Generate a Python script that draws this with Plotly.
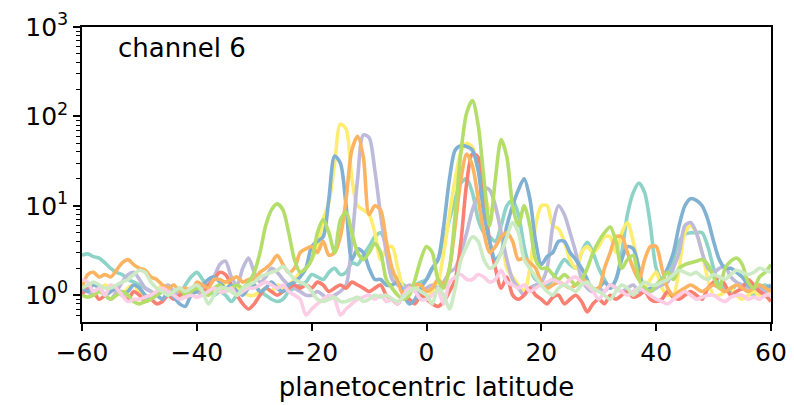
import plotly.graph_objects as go

lat = list(range(-60, 61))

teal = [2.8, 2.9, 2.7, 2.6, 2.3, 2.0, 1.8, 1.7, 1.5, 1.4,
        1.3, 1.2, 1.1, 1.0, 1.1, 1.2, 1.1, 1.0, 1.3, 1.6,
        1.8, 1.5, 1.2, 1.0, 1.1, 1.0, 0.85, 1.0, 1.2, 1.3,
        1.3, 1.1, 1.0, 0.9, 0.85, 0.9, 1.1, 1.2, 1.3, 1.4,
        1.7, 1.6, 1.5, 1.8, 2.0, 1.7, 1.8, 2.3, 2.2, 2.8,
        3.5, 4.5, 5.0, 3.5, 1.8, 1.5, 1.3, 1.2, 1.3, 1.4,
        1.5, 2.0, 2.5, 4.0, 7.0, 12, 18, 20, 14, 7,
        5, 4.5, 4, 6, 10, 11.5, 8, 3.5, 2, 1.5,
        1.4, 1.3, 1.5, 2.0, 2.5, 2.2, 2.0, 3.0, 3.9, 3.0,
        2.0, 1.5, 1.2, 1.5, 3.0, 8, 14, 18, 14, 6,
        2.0, 1.5, 1.5, 2.5, 4.0, 4.8, 5.0, 5.0, 5.0, 3.5,
        2.0, 1.3, 1.2, 1.1, 1.3, 1.2, 1.1, 1.0, 1.2, 1.3, 1.2]

yellow = [1.1, 1.2, 1.0, 1.1, 1.3, 1.2, 1.1, 1.0, 1.2, 1.3,
          1.1, 1.0, 0.95, 1.1, 1.3, 1.2, 1.1, 1.0, 1.0, 1.1,
          1.2, 1.1, 1.0, 1.2, 1.1, 1.4, 1.3, 1.2, 1.1, 1.0,
          1.0, 1.1, 1.2, 1.1, 1.3, 1.2, 1.3, 1.5, 1.8, 2.0,
          2.5, 3.5, 7, 11, 30, 82, 72, 20, 10, 9,
          8, 5, 2.5, 3.3, 3.5, 2, 1.2, 1.1, 1.3, 1.0,
          0.9, 1.1, 1.4, 3, 8, 20, 40, 50, 45, 25,
          15, 9, 9, 5, 2, 1.6, 1.3, 1.1, 2, 6,
          10, 10, 6, 5.5, 4, 2.5, 2, 3, 3.5, 3,
          3.5, 4.5, 4.5, 3, 5, 6.5, 4, 2, 1.2, 1.5,
          1.8, 1.2, 1.0, 1.0, 2, 5, 6, 5, 3, 1.5,
          1.0, 1.0, 1.1, 1.2, 1.0, 0.9, 1.0, 1.1, 1.0, 1.1, 1.1]

lavender = [1.3, 1.1, 1.0, 1.2, 1.0, 0.9, 1.1, 1.4, 1.7, 1.8,
            1.5, 1.2, 1.1, 1.0, 1.2, 1.3, 1.1, 1.0, 1.1, 1.2,
            1.1, 1.0, 1.3, 1.6, 2.2, 2.4, 1.6, 1.3, 2.0, 2.6,
            1.8, 1.4, 1.6, 2.0, 1.8, 1.5, 1.3, 1.2, 1.1, 1.0,
            1.0, 1.1, 1.0, 0.9, 1.0, 1.1, 1.3, 4, 20, 62,
            58, 25, 8, 3, 1.5, 1.3, 1.2, 1.3, 1.2, 1.1,
            1.2, 1.3, 1.2, 1.4, 1.8, 2, 3, 5, 9, 13,
            16, 15, 10, 5, 2.5, 1.5, 1.2, 1.0, 1.2, 1.3,
            1.4, 2, 6, 10, 8, 5, 3, 1.5, 1.2, 1.1,
            1.2, 1.1, 1.3, 1.2, 1.1, 1.2, 1.3, 1.1, 1.2, 1.1,
            1.2, 1.3, 1.4, 2, 3, 6, 6.5, 5, 3, 2,
            1.8, 2, 2.1, 1.6, 1.4, 1.3, 1.2, 1.3, 1.2, 1.1, 1.2]

salmon = [1.0, 1.2, 1.1, 0.9, 1.0, 1.1, 1.2, 1.0, 0.9, 1.1,
          1.0, 0.85, 0.9, 0.8, 0.85, 1.0, 0.9, 1.0, 1.1, 1.0,
          1.2, 1.1, 1.3, 1.5, 1.8, 1.7, 1.3, 1.0, 0.8, 0.7,
          0.8, 1.0, 1.2, 1.1, 1.0, 1.1, 1.2, 1.3, 1.2, 1.3,
          1.2, 1.4, 1.3, 1.1, 1.2, 1.3, 1.2, 1.4, 1.3, 1.2,
          1.1, 1.2, 1.3, 1.0, 0.9, 0.8, 1.0, 0.9, 0.8, 1.0,
          0.9, 0.8, 0.75, 0.85, 1.1, 1.5, 4, 18, 38, 35,
          12, 4, 2, 1.2, 1.6, 1.0, 0.9, 1.0, 1.2, 1.0,
          0.9, 0.8, 0.95, 1.0, 0.8, 0.9, 1.0, 0.85, 0.65, 0.8,
          0.9, 0.8, 1.0, 0.9, 1.0, 1.1, 0.95, 1.0, 1.1, 0.9,
          0.85, 0.9, 1.1, 0.95, 0.9, 1.0, 1.1, 1.0, 0.9, 1.2,
          1.4, 1.6, 1.3, 1.0, 1.1, 1.2, 1.5, 1.3, 1.1, 1.0, 0.85]

blue = [1.2, 1.1, 1.3, 1.2, 1.0, 1.1, 1.2, 1.0, 1.1, 1.3,
        1.2, 1.0, 0.9, 1.0, 0.9, 1.1, 0.95, 0.8, 0.75, 1.0,
        1.1, 1.3, 1.5, 1.6, 1.4, 1.2, 1.3, 1.1, 1.0, 1.2,
        1.3, 1.1, 1.2, 1.4, 1.2, 1.1, 1.3, 1.4, 1.6, 2.0,
        3.5, 4, 4.5, 12, 36, 30, 10, 2.5, 3.3, 3.0,
        2.0, 1.5, 1.5, 1.3, 1.3, 1.4, 1.0, 0.8, 0.9, 1.2,
        1.5, 2.0, 2.5, 6, 20, 42, 47, 46, 42, 25,
        8, 4, 2.5, 3, 6, 10, 15, 20, 12, 4,
        2.2, 2.7, 3, 4, 4, 3, 2.5, 2, 1.5, 1.1,
        1.2, 1.4, 1.2, 1.5, 2.5, 3.5, 3.3, 2, 1.1, 1.2,
        1.3, 1.5, 2, 3, 6, 10, 12, 11.5, 10, 7,
        4, 2.5, 2, 2, 1.8, 1.6, 1.3, 1.2, 1.3, 1.2, 1.3]

orange = [1.2, 1.7, 1.8, 1.6, 1.7, 1.6, 1.9, 2.3, 2.5, 2.2,
          2.0, 1.9, 1.6, 1.5, 1.3, 1.2, 1.3, 1.1, 1.2, 1.1,
          1.4, 1.3, 1.2, 1.5, 1.5, 1.4, 1.5, 1.6, 1.4, 1.5,
          1.5, 1.8, 2.0, 2.3, 2.8, 2.2, 1.8, 2.0, 3.0, 3.3,
          3.5, 3.0, 4.0, 2.8, 3.0, 4.5, 12, 42, 60, 35,
          8, 10, 9, 4, 2, 1.4, 1.0, 1.2, 1.3, 1.3,
          1.1, 1.2, 1.5, 1.3, 2, 6, 20, 38, 28, 12,
          5, 3, 3.5, 4.5, 5, 4, 2.5, 2.6, 2.3, 2,
          1.4, 1.2, 1.3, 1.4, 1.3, 1.2, 1.3, 1.5, 1.4, 1.2,
          1.2, 2, 3, 4.5, 4.5, 3, 2, 1.5, 2.5, 3.5,
          3.5, 2, 1.2, 1.0, 1.1, 1.2, 1.3, 1.2, 1.1, 1.2,
          1.3, 1.2, 1.1, 1.2, 1.3, 1.2, 1.1, 1.2, 1.3, 1.2, 1.1]

green = [1.0, 0.95, 1.0, 1.1, 1.0, 0.9, 1.0, 1.1, 1.0, 0.85,
         0.8, 0.85, 0.9, 1.0, 1.1, 1.0, 1.1, 1.2, 1.0, 1.1,
         1.2, 1.1, 1.0, 1.2, 1.3, 1.1, 1.2, 1.3, 1.2, 1.4,
         1.8, 3, 6, 9, 10.5, 9, 5, 2.5, 1.8, 2.0,
         2.5, 5, 7, 5, 3, 7, 8.5, 5, 3, 2.5,
         3, 3.8, 3, 1.5, 1.2, 1.0, 0.9, 1.0, 1.5, 2.5,
         3.5, 3, 1.5, 1.2, 2, 8, 40, 110, 150, 80,
         20, 6, 20, 55, 35, 10, 6, 10, 6, 2.5,
         2, 2, 1.7, 1.5, 1.7, 1.5, 1.3, 1.5, 2, 3,
         4, 5, 5.8, 4, 2, 2.5, 2.8, 1.5, 1.2, 1.1,
         1.3, 1.5, 1.8, 1.5, 2, 2.2, 2.3, 2.4, 2.5, 2.2,
         1.6, 1.2, 2, 2.4, 2.6, 2.2, 1.4, 1.2, 1.6, 1.8, 2.2]

pink = [1.5, 1.4, 1.1, 1.2, 1.0, 1.3, 1.2, 1.0, 0.85, 0.9,
        0.9, 0.95, 1.0, 1.1, 1.2, 1.1, 1.0, 0.9, 0.95, 1.0,
        0.95, 1.0, 1.1, 1.2, 1.1, 1.1, 1.2, 1.0, 1.1, 1.2,
        1.2, 1.3, 1.4, 1.3, 1.2, 1.3, 1.1, 1.0, 0.9, 0.6,
        0.7, 0.8, 0.9, 1.0, 0.9, 0.6, 0.7, 0.8, 0.9, 0.95,
        1.0, 0.9, 1.0, 0.85, 0.9, 0.8, 1.0, 1.2, 1.1, 0.9,
        0.9, 1.0, 1.1, 0.8, 1.4, 1.6, 1.7, 1.5, 1.5, 1.7,
        1.6, 1.4, 1.5, 1.9, 1.4, 1.3, 1.2, 1.3, 1.1, 1.2,
        1.3, 1.4, 1.5, 1.4, 1.3, 1.5, 1.6, 1.4, 1.3, 1.1,
        0.9, 1.1, 1.3, 1.2, 1.1, 1.0, 1.1, 1.2, 1.1, 1.0,
        0.9, 0.85, 0.8, 0.9, 1.0, 1.1, 1.0, 0.9, 0.95, 1.0,
        1.0, 0.9, 0.85, 0.95, 1.0, 1.0, 0.9, 0.95, 0.9, 1.0, 1.0]

lightgreen = [1.2, 1.3, 1.4, 1.3, 1.2, 1.2, 1.3, 1.4, 1.5, 1.7,
              1.9, 1.8, 1.4, 1.2, 1.1, 1.0, 1.1, 1.2, 1.1, 1.2,
              1.3, 1.1, 0.8, 1.0, 1.2, 1.2, 1.1, 1.0, 1.2, 1.3,
              1.4, 1.6, 1.7, 1.8, 1.9, 2.1, 1.8, 1.5, 1.4, 1.3,
              1.1, 0.9, 0.85, 0.9, 0.95, 0.85, 0.85, 0.9, 0.95, 0.85,
              0.9, 1.0, 0.95, 1.0, 0.9, 0.85, 0.95, 1.1, 1.2, 1.1,
              1.0, 0.8, 1.2, 1.0, 0.7, 1.2, 2.5, 3.5, 4.5, 4.0,
              2.5, 2.0, 2.2, 3.0, 4.5, 6.5, 5, 2.5, 2.0, 1.6,
              1.3, 1.1, 1.0, 1.2, 1.3, 1.2, 1.1, 1.3, 1.4, 1.2,
              1.1, 1.0, 0.9, 1.1, 1.3, 1.2, 1.0, 1.2, 1.4, 1.3,
              1.3, 1.4, 1.5, 1.7, 1.9, 1.8, 1.7, 1.8, 1.6, 1.5,
              1.7, 1.6, 1.5, 1.7, 1.9, 1.8, 1.7, 1.8, 2.0, 1.9, 1.8]

series = [
    ("teal", teal, "#8dd3c7"),
    ("yellow", yellow, "#ffed6f"),
    ("lavender", lavender, "#bebada"),
    ("salmon", salmon, "#fb8072"),
    ("blue", blue, "#80b1d3"),
    ("orange", orange, "#fdb462"),
    ("green", green, "#b3de69"),
    ("pink", pink, "#fccde5"),
    ("lightgreen", lightgreen, "#ccebc5"),
]

FONT = "DejaVu Sans"

fig = go.Figure()
for name, vals, col in series:
    fig.add_trace(go.Scatter(x=lat, y=vals, mode="lines", name=name,
                             line=dict(color=col, width=3.6, shape="spline", smoothing=0.8),
                             showlegend=False))

fig.add_annotation(text="channel 6", xref="paper", yref="paper", x=0.049, y=0.929,
                   xanchor="left", yanchor="middle", showarrow=False,
                   font=dict(family=FONT, size=26, color="black"))

fig.update_layout(
    width=794, height=405,
    margin=dict(l=82, r=23, t=27, b=83),
    plot_bgcolor="white", paper_bgcolor="white",
    font=dict(family=FONT, size=25, color="black"),
)
fig.update_xaxes(range=[-60, 60], tickvals=[-60, -40, -20, 0, 20, 40, 60],
                 ticks="outside", ticklen=7, tickwidth=1.5, tickcolor="black",
                 tickfont=dict(family=FONT, size=25),
                 showline=True, linecolor="black", linewidth=1.5, mirror=True,
                 showgrid=False, zeroline=False, automargin=False,
                 title=dict(text="planetocentric latitude", font=dict(family=FONT, size=26), standoff=12))
fig.update_yaxes(type="log", range=[-0.3, 3],
                 tickvals=[1, 10, 100, 1000],
                 ticktext=["10<sup>0</sup>", "10<sup>1</sup>", "10<sup>2</sup>", "10<sup>3</sup>"],
                 ticks="outside", ticklen=7, tickwidth=1.5, tickcolor="black",
                 tickfont=dict(family=FONT, size=25),
                 minor=dict(ticks="outside", ticklen=4, tickwidth=1, tickcolor="black",
                            tickvals=[0.5, 0.6, 0.7, 0.8, 0.9, 2, 3, 4, 5, 6, 7, 8, 9,
                                      20, 30, 40, 50, 60, 70, 80, 90,
                                      200, 300, 400, 500, 600, 700, 800, 900], showgrid=False),
                 showline=True, linecolor="black", linewidth=1.5, mirror=True,
                 showgrid=False, zeroline=False, automargin=False)

fig.write_html("out.html")
